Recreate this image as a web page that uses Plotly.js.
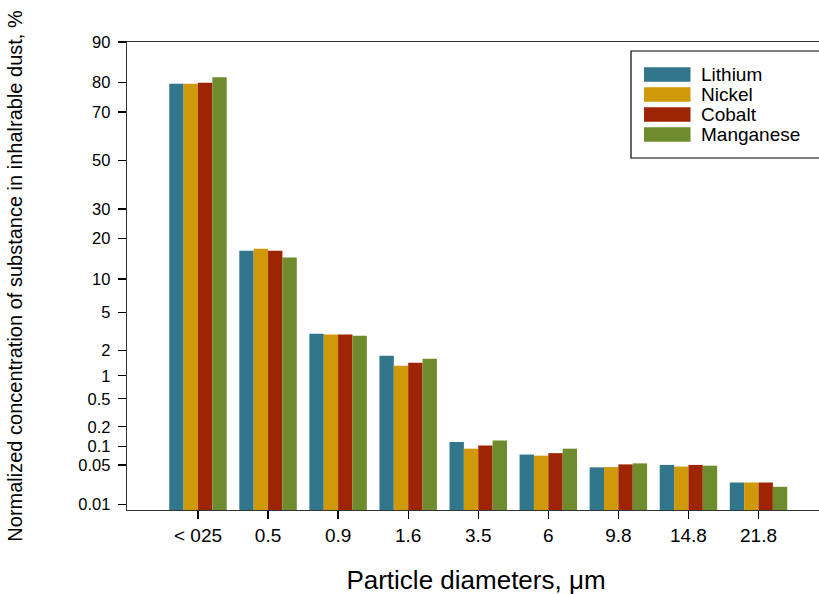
<!DOCTYPE html>
<html><head><meta charset="utf-8">
<script src="https://cdn.plot.ly/plotly-3.0.1.min.js"></script>
<style>html,body{margin:0;padding:0;overflow:hidden;background:#fff}#chart{width:840px;height:620px}</style>
</head><body><div id="chart"></div>
<script>
// ---- data (percent of substance in inhalable dust) ----
const categories = ['< 025','0.5','0.9','1.6','3.5','6','9.8','14.8','21.8'];
const seriesNames = ['Lithium','Nickel','Cobalt','Manganese'];
const lithium   = [79.7, 16.5, 3.06, 1.74, 0.117, 0.074, 0.0455, 0.050, 0.025];
const nickel    = [79.7, 17.0, 3.01, 1.33, 0.092, 0.071, 0.046, 0.047, 0.025];
const cobalt    = [80.0, 16.5, 3.01, 1.44, 0.103, 0.078, 0.051, 0.050, 0.025];
const manganese = [81.6, 14.7, 2.91, 1.61, 0.124, 0.092, 0.053, 0.0485, 0.021];
const colors = ['#31768a','#cf990a','#9e2503','#6e8b2d'];
const yTickValues = [90,80,70,50,30,20,10,5,2,1,0.5,0.2,0.1,0.05,0.01];
const yTickLabels = ['90','80','70','50','30','20','10','5','2','1','0.5','0.2','0.1','0.05','0.01'];

// inverse normal CDF (probability scale axis)
function probit(p){
 const a=[-3.969683028665376e+01,2.209460984245205e+02,-2.759285104469687e+02,1.383577518672690e+02,-3.066479806614716e+01,2.506628277459239e+00];
 const b=[-5.447609879822406e+01,1.615858368580409e+02,-1.556989798598866e+02,6.680131188771972e+01,-1.328068155288572e+01];
 const c=[-7.784894002430293e-03,-3.223964580411365e-01,-2.400758277161838e+00,-2.549732539343734e+00,4.374664141464968e+00,2.938163982698783e+00];
 const d=[7.784695709041462e-03,3.224671290700398e-01,2.445134137142996e+00,3.754408661907416e+00];
 const pl=0.02425, ph=1-pl; let q,r;
 if(p<pl){q=Math.sqrt(-2*Math.log(p));return (((((c[0]*q+c[1])*q+c[2])*q+c[3])*q+c[4])*q+c[5])/((((d[0]*q+d[1])*q+d[2])*q+d[3])*q+1);}
 if(p<=ph){q=p-0.5;r=q*q;return (((((a[0]*r+a[1])*r+a[2])*r+a[3])*r+a[4])*r+a[5])*q/(((((b[0]*r+b[1])*r+b[2])*r+b[3])*r+b[4])*r+1);}
 q=Math.sqrt(-2*Math.log(1-p));return -(((((c[0]*q+c[1])*q+c[2])*q+c[3])*q+c[4])*q+c[5])/((((d[0]*q+d[1])*q+d[2])*q+d[3])*q+1);
}

const yMax = probit(0.90);
const yMin = -3.778;
const FONT = 'Liberation Sans, Arial, sans-serif';

const allSeries = [lithium, nickel, cobalt, manganese];
const traces = allSeries.map((vals, i) => ({
  type: 'bar',
  name: seriesNames[i],
  x: categories,
  y: vals.map(v => probit(v/100) - yMin),
  base: yMin,
  customdata: vals,
  hovertemplate: seriesNames[i] + ': %{customdata}%<extra></extra>',
  marker: {color: colors[i], line: {width: 0}},
  showlegend: false
}));

// layout geometry (px) for the custom legend
const FW = 840, FH = 620;
const L = 127, T = 42, W = 698, H = 468;
const px = x => (x - L) / W;
const py = y => (T + H - y) / H;

const shapes = [{type:'rect', xref:'paper', yref:'paper', x0:px(631), x1:px(836), y0:py(158), y1:py(51), line:{color:'#000', width:1.2}, fillcolor:'rgba(0,0,0,0)'}];
const annotations = [];
seriesNames.forEach((n, i) => {
  const cy = 74.5 + i * 20;
  shapes.push({type:'rect', xref:'paper', yref:'paper', x0:px(644), x1:px(690.5), y0:py(cy+7.2), y1:py(cy-7.2), line:{width:0}, fillcolor:colors[i]});
  annotations.push({xref:'paper', yref:'paper', x:px(699), y:py(cy), xanchor:'left', yanchor:'middle', showarrow:false, text:n, font:{family:FONT, size:19, color:'#000'}});
});

const layout = {
  width: FW, height: FH,
  margin: {l: L, r: FW - L - W, t: T, b: FH - T - H},
  paper_bgcolor: '#fff', plot_bgcolor: '#fff',
  barmode: 'group', bargap: 0.18, bargroupgap: 0,
  font: {family: FONT, color: '#000'},
  xaxis: {
    type: 'category', range: [-1.013, 8.949],
    showline: true, mirror: true, linecolor: '#333', linewidth: 1.3,
    ticks: 'outside', ticklen: 8, tickcolor: '#000', tickwidth: 1.3,
    tickfont: {family: FONT, size: 19, color: '#000'},
    showgrid: false, zeroline: false, automargin: true,
    title: {text: 'Particle diameters, μm', standoff: 25, font: {family: FONT, size: 26, color: '#000'}}
  },
  yaxis: {
    range: [yMin, yMax],
    tickvals: yTickValues.map(v => probit(v/100)), ticktext: yTickLabels,
    showline: true, linecolor: '#333', linewidth: 1.3,
    ticks: 'outside', ticklen: 8, tickcolor: '#000', tickwidth: 1.3,
    ticklabelstandoff: 4,
    tickfont: {family: FONT, size: 16.5, color: '#000'},
    showgrid: false, zeroline: false, automargin: true,
    title: {text: 'Normalized concentration of substance in inhalrable dust, %', standoff: 50, font: {family: FONT, size: 20, color: '#000'}}
  },
  shapes: shapes,
  annotations: annotations
};

Plotly.newPlot('chart', traces, layout, {displayModeBar: false, staticPlot: true});
</script>
</body></html>
